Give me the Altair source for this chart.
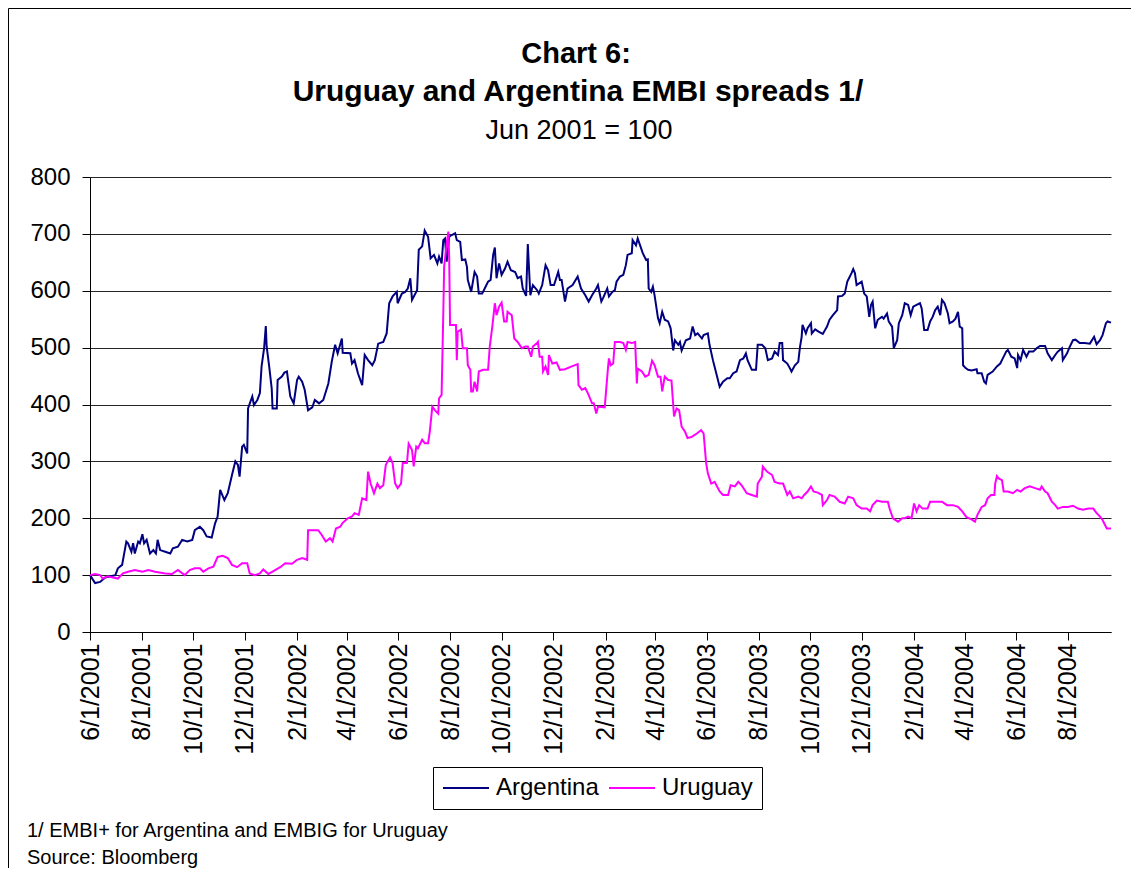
import altair as alt
import pandas as pd

FONT = "Liberation Sans, Arial, Helvetica, sans-serif"

# ---------------- data (days since 1 Jun 2001, index Jun 2001 = 100) ----------------
START = "2001-06-01"
END = "2004-09-21"

arg_days = [0, 6, 12, 18, 30, 33, 38, 43, 45, 49, 51, 53, 57, 59, 62, 64, 67, 71, 75, 78, 80, 83, 89, 95, 98,
            104, 109, 115, 121, 124, 130, 134, 138, 144, 148, 151, 154, 159, 163, 168, 172, 175, 177, 180, 182,
            186, 187, 192, 194, 198, 201, 203, 206, 208, 209, 212, 215, 216, 221, 222, 227, 230, 233, 237, 241,
            245, 247, 251, 254, 258, 263, 266, 271, 276, 282, 286, 290, 293, 298, 299, 308, 310, 313, 317, 322,
            325, 329, 334, 337, 341, 347, 351, 354, 358, 363, 364, 369, 373, 376, 379, 381, 387, 389, 393, 396,
            400, 403, 407, 411, 413, 416, 418, 420, 422, 425, 428, 432, 434, 438, 440, 444, 446, 447, 451, 455,
            458, 460, 464, 467, 471, 474, 477, 479, 481, 484, 487, 491, 494, 498, 503, 506, 510, 512, 516, 518,
            521, 524, 529, 531, 535, 539, 542, 545, 549, 554, 556, 558, 562, 565, 571, 577, 581, 586, 590, 594,
            599, 601, 605, 607, 612, 614, 618, 621, 623, 627, 631, 634, 636, 641, 642, 646, 648, 652, 654, 658,
            660, 661, 664, 666, 668, 672, 674, 677, 680, 684, 687, 690, 692, 696, 698, 700, 705, 710, 713, 716,
            719, 724, 726, 731, 733, 737, 742, 745, 749, 754, 757, 761, 765, 769, 773, 776, 778, 783, 788, 790,
            795, 799, 802, 807, 810, 814, 816, 819, 820, 825, 828, 830, 834, 838, 840, 842, 843, 847, 849, 853,
            854, 858, 862, 867, 872, 875, 879, 884, 885, 890, 893, 896, 898, 901, 903, 905, 907, 910, 913, 916,
            919, 922, 924, 926, 929, 932, 937, 939, 943, 945, 949, 951, 955, 957, 961, 964, 968, 971, 974, 978,
            982, 984, 987, 991, 994, 997, 1000, 1003, 1006, 1008, 1011, 1015, 1017, 1021, 1024, 1027, 1029,
            1032, 1033, 1036, 1039, 1043, 1049, 1050, 1055, 1058, 1060, 1062, 1068, 1073, 1077, 1080, 1084,
            1086, 1090, 1094, 1097, 1098, 1101, 1104, 1108, 1111, 1116, 1120, 1124, 1130, 1133, 1138, 1142,
            1145, 1150, 1151, 1156, 1159, 1163, 1166, 1171, 1177, 1183, 1188, 1191, 1195, 1198, 1202, 1204, 1208]
arg_vals = [100, 86, 88, 96, 100, 112, 118, 159, 156, 141, 156, 138, 159, 156, 172, 156, 162, 138, 144, 138, 162,
            144, 141, 138, 147, 150, 162, 159, 162, 179, 185, 179, 168, 166, 191, 203, 250, 232, 244, 276, 300,
            294, 273, 326, 329, 314, 393, 414, 399, 408, 420, 467, 499, 538, 502, 467, 428, 393, 393, 443, 449,
            456, 458, 414, 402, 443, 449, 440, 426, 390, 395, 408, 402, 408, 437, 475, 505, 490, 516, 491, 490,
            472, 478, 455, 434, 487, 478, 469, 478, 507, 510, 525, 578, 590, 598, 578, 595, 598, 604, 622, 584,
            601, 672, 678, 706, 695, 657, 663, 648, 660, 648, 689, 692, 651, 695, 698, 701, 689, 686, 654, 655,
            642, 619, 598, 633, 625, 595, 595, 604, 616, 619, 663, 676, 622, 648, 628, 639, 651, 636, 633, 622,
            625, 604, 591, 682, 592, 610, 601, 595, 610, 645, 636, 610, 610, 633, 619, 619, 581, 604, 610, 625,
            604, 592, 581, 592, 604, 610, 581, 587, 604, 590, 598, 601, 616, 625, 628, 645, 663, 666, 689, 680,
            692, 675, 666, 654, 655, 604, 598, 607, 592, 552, 543, 563, 549, 546, 534, 495, 513, 505, 510, 495,
            513, 516, 537, 522, 525, 516, 522, 525, 505, 478, 449, 431, 440, 446, 446, 455, 458, 478, 481, 490,
            478, 461, 461, 505, 505, 499, 478, 481, 493, 487, 508, 508, 478, 472, 464, 458, 469, 475, 501, 519,
            540, 525, 534, 543, 525, 532, 528, 524, 537, 549, 557, 566, 590, 591, 595, 616, 622, 631, 638, 631,
            610, 613, 616, 595, 590, 554, 575, 581, 534, 549, 554, 551, 560, 546, 537, 499, 513, 543, 557, 578,
            575, 557, 572, 575, 578, 569, 531, 531, 546, 554, 566, 572, 557, 584, 578, 560, 543, 546, 551, 563,
            537, 534, 469, 464, 461, 460, 462, 455, 455, 440, 437, 452, 458, 467, 472, 481, 493, 496, 484, 481,
            464, 487, 478, 496, 484, 493, 493, 499, 503, 503, 490, 478, 487, 493, 499, 478, 490, 501, 513, 514,
            508, 508, 507, 519, 506, 513, 522, 543, 546, 544]

uru_days = [0, 6, 12, 15, 21, 27, 33, 39, 45, 53, 62, 69, 77, 89, 97, 104, 112, 118, 124, 130, 134, 140, 146, 151,
            157, 163, 168, 174, 180, 186, 189, 195, 201, 205, 211, 216, 225, 231, 239, 245, 251, 257, 258, 270,
            274, 279, 284, 287, 291, 296, 299, 305, 310, 313, 318, 322, 327, 329, 332, 336, 340, 343, 347, 350,
            355, 358, 361, 364, 368, 370, 375, 377, 381, 383, 386, 388, 393, 396, 400, 402, 405, 408, 412, 413,
            416, 418, 419, 422, 424, 425, 426, 429, 433, 434, 435, 439, 441, 446, 447, 450, 451, 453, 455, 458,
            460, 465, 471, 473, 476, 479, 481, 484, 487, 490, 493, 494, 499, 502, 506, 511, 515, 518, 522, 524,
            529, 530, 532, 535, 536, 539, 542, 543, 547, 552, 556, 562, 570, 577, 578, 582, 586, 589, 594, 596,
            599, 601, 603, 609, 613, 614, 616, 619, 621, 627, 631, 634, 636, 641, 645, 647, 648, 653, 657, 661,
            665, 668, 672, 675, 677, 680, 684, 688, 691, 694, 697, 700, 704, 707, 712, 718, 723, 726, 729, 731,
            735, 739, 745, 749, 755, 758, 763, 767, 771, 777, 783, 789, 790, 795, 796, 801, 807, 810, 816, 820,
            825, 828, 832, 838, 842, 845, 849, 853, 856, 861, 866, 867, 872, 875, 881, 887, 893, 897, 903, 907,
            913, 919, 923, 926, 931, 937, 944, 946, 950, 956, 961, 964, 968, 972, 975, 978, 981, 985, 991, 994,
            1000, 1008, 1014, 1021, 1027, 1032, 1037, 1043, 1047, 1050, 1055, 1059, 1062, 1066, 1070, 1071, 1073,
            1075, 1079, 1081, 1086, 1092, 1097, 1101, 1106, 1112, 1118, 1124, 1126, 1130, 1133, 1138, 1142, 1145,
            1151, 1157, 1163, 1169, 1175, 1181, 1187, 1191, 1195, 1198, 1203, 1208]
uru_vals = [100, 102, 100, 94, 98, 96, 94, 103, 106, 109, 106, 109, 106, 103, 102, 109, 100, 109, 112, 112, 106,
            112, 115, 132, 134, 130, 118, 114, 121, 121, 103, 100, 103, 110, 102, 106, 114, 121, 120, 127, 130,
            127, 179, 179, 171, 159, 165, 159, 182, 185, 192, 200, 203, 209, 206, 235, 232, 282, 261, 244, 261,
            253, 258, 294, 307, 297, 261, 253, 261, 297, 297, 331, 320, 291, 326, 323, 338, 332, 332, 352, 396,
            390, 384, 411, 417, 560, 642, 683, 704, 657, 540, 540, 540, 478, 528, 532, 499, 499, 469, 461, 423,
            423, 440, 423, 458, 461, 461, 502, 537, 578, 557, 572, 579, 546, 546, 563, 557, 516, 510, 499, 502,
            502, 484, 502, 508, 510, 484, 484, 458, 467, 452, 487, 472, 474, 461, 462, 467, 471, 434, 426, 429,
            420, 402, 402, 384, 396, 396, 395, 467, 481, 469, 472, 510, 510, 508, 496, 510, 508, 510, 437, 463,
            458, 449, 452, 477, 469, 449, 449, 423, 449, 443, 442, 379, 393, 390, 361, 352, 341, 343, 349, 355,
            349, 297, 279, 261, 264, 247, 241, 241, 258, 256, 264, 258, 244, 241, 238, 261, 273, 291, 282, 276,
            264, 261, 261, 241, 247, 235, 238, 235, 241, 247, 256, 247, 245, 241, 223, 232, 241, 238, 229, 226,
            238, 235, 223, 217, 217, 212, 223, 231, 229, 229, 217, 200, 194, 200, 200, 203, 200, 226, 212, 223,
            217, 217, 229, 229, 229, 223, 223, 220, 212, 202, 198, 194, 206, 220, 223, 235, 241, 241, 261, 274,
            270, 267, 247, 247, 244, 250, 247, 253, 256, 253, 250, 256, 247, 244, 229, 223, 217, 220, 220, 222,
            217, 215, 217, 217, 209, 203, 197, 182, 182]

series_names = ["Argentina", "Uruguay"]
series_colors = ["#000080", "#FF00FF"]
tick_dates = ["2001-06-01", "2001-08-01", "2001-10-01", "2001-12-01", "2002-02-01", "2002-04-01",
              "2002-06-01", "2002-08-01", "2002-10-01", "2002-12-01", "2003-02-01", "2003-04-01",
              "2003-06-01", "2003-08-01", "2003-10-01", "2003-12-01", "2004-02-01", "2004-04-01",
              "2004-06-01", "2004-08-01"]
y_ticks = [0, 100, 200, 300, 400, 500, 600, 700, 800]
title_line1 = "Chart 6:"
title_line2 = "Uruguay and Argentina EMBI spreads 1/"
subtitle = "Jun 2001 = 100"
footnotes = ["1/ EMBI+ for Argentina and EMBIG for Uruguay", "Source: Bloomberg"]

# ---------------- build table ----------------
base_day = pd.Timestamp(START)


def to_dates(days):
    return [(base_day + pd.Timedelta(days=d)).strftime("%Y-%m-%d") for d in days]


def to_ms(s):
    return int(pd.Timestamp(s, tz="UTC").timestamp() * 1000)


df = pd.DataFrame({
    "date": to_dates(arg_days) + to_dates(uru_days),
    "value": arg_vals + uru_vals,
    "series": [series_names[0]] * len(arg_days) + [series_names[1]] * len(uru_days),
})

W, H = 1021, 455
one = pd.DataFrame({"k": [0]})

frame = alt.Chart(one).mark_rect(fillOpacity=0, stroke="black", strokeWidth=1).encode(
    x=alt.value(-81.5), x2=alt.value(W + 300), y=alt.value(-168.5), y2=alt.value(H + 400)
)

lines = alt.Chart(df).mark_line(strokeWidth=2).encode(
    x=alt.X(
        "date:T",
        scale=alt.Scale(type="utc", domain=[to_ms(START), to_ms(END)]),
        axis=alt.Axis(
            values=[to_ms(d) for d in tick_dates],
            labelExpr="utcFormat(datum.value, '%-m/%-d/%Y')",
            labelAngle=270,
            labelFontSize=25,
            labelFont=FONT,
            labelColor="black",
            labelPadding=3,
            tickSize=8,
            tickColor="black",
            domainColor="black",
            grid=False,
            title=None,
            labelOverlap=False,
        ),
    ),
    y=alt.Y(
        "value:Q",
        scale=alt.Scale(domain=[0, 800], nice=False),
        axis=alt.Axis(
            values=y_ticks,
            labelFontSize=24,
            labelFont=FONT,
            labelColor="black",
            labelPadding=12,
            tickSize=8,
            tickColor="black",
            domainColor="black",
            grid=True,
            gridColor="#000000",
            gridOpacity=0.85,
            title=None,
        ),
    ),
    color=alt.Color(
        "series:N",
        scale=alt.Scale(domain=series_names, range=series_colors),
        legend=alt.Legend(
            title=None,
            orient="none",
            legendX=343,
            legendY=590,
            direction="horizontal",
            columns=2,
            symbolType="stroke",
            symbolSize=2116,
            symbolStrokeWidth=2,
            clipHeight=24,
            labelFontSize=24,
            labelFont=FONT,
            labelColor="black",
            labelOffset=6,
            columnPadding=9,
            padding=9,
            strokeColor="black",
            fillColor="white",
        ),
    ),
)

t1 = alt.Chart(one).mark_text(text=title_line1, font=FONT, fontSize=29, fontWeight="bold",
                              align="center", baseline="alphabetic", color="black").encode(
    x=alt.value(576 - 90), y=alt.value(63 - 177))
t2 = alt.Chart(one).mark_text(text=title_line2, font=FONT, fontSize=30, fontWeight="bold",
                              align="center", baseline="alphabetic", color="black").encode(
    x=alt.value(578 - 90), y=alt.value(101 - 177))
t3 = alt.Chart(one).mark_text(text=subtitle, font=FONT, fontSize=27,
                              align="center", baseline="alphabetic", color="black").encode(
    x=alt.value(579 - 90), y=alt.value(139 - 177))
foot = alt.Chart(one).mark_text(text=footnotes, font=FONT, fontSize=20, lineHeight=27,
                                align="left", baseline="alphabetic", color="black").encode(
    x=alt.value(27 - 90), y=alt.value(837 - 177))

chart = alt.layer(frame, lines, t1, t2, t3, foot).properties(
    width=W,
    height=H,
    padding={"left": 82, "top": 169, "right": 20, "bottom": 236},
    autosize=alt.AutoSizeParams(type="none"),
    background="white",
).configure_view(strokeWidth=0)

chart.save("out.html", embed_options={"renderer": "svg", "actions": False})
